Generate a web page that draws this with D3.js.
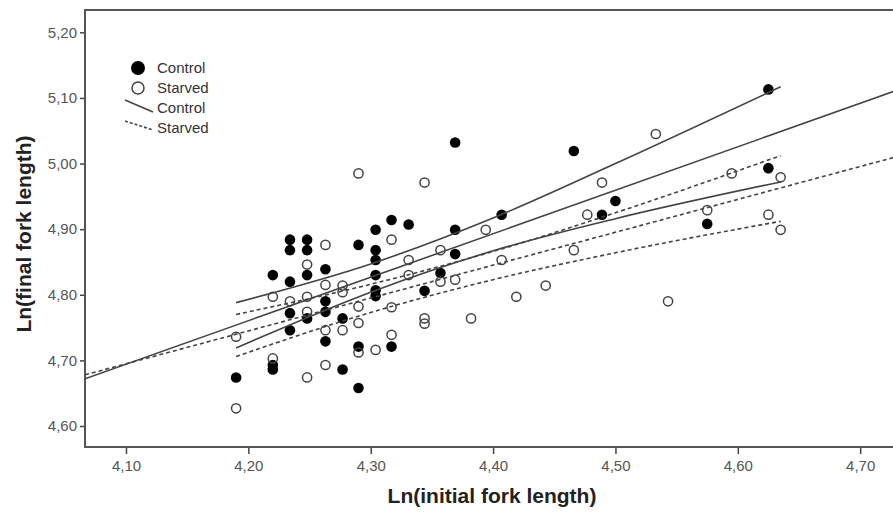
<!DOCTYPE html>
<html>
<head>
<meta charset="utf-8">
<title>Ln(final fork length) vs Ln(initial fork length)</title>
<style>
  html, body { margin:0; padding:0; background:#fff; }
  svg { display:block; }
  text { font-family: Arial, "Liberation Sans", sans-serif; }
</style>
<script src="https://d3js.org/d3.v7.min.js"></script>
</head>
<body>
<svg id="chart" width="893" height="515"></svg>
<script>
  // tick labels
  var xTicks = [4.10, 4.20, 4.30, 4.40, 4.50, 4.60, 4.70];
  var yTicks = [4.60, 4.70, 4.80, 4.90, 5.00, 5.10, 5.20];

  // [ln initial, ln final]
  var controlPoints = [
    [4.190, 4.674],
    [4.220, 4.830], [4.220, 4.693], [4.220, 4.686],
    [4.234, 4.884], [4.234, 4.868], [4.234, 4.820], [4.234, 4.772], [4.234, 4.746],
    [4.248, 4.884], [4.248, 4.868], [4.248, 4.830], [4.248, 4.764],
    [4.263, 4.839], [4.263, 4.790], [4.263, 4.774], [4.263, 4.729],
    [4.277, 4.764], [4.277, 4.686],
    [4.290, 4.876], [4.290, 4.721], [4.290, 4.658],
    [4.304, 4.899], [4.304, 4.868], [4.304, 4.853], [4.304, 4.830], [4.304, 4.807], [4.304, 4.798],
    [4.317, 4.914], [4.317, 4.721],
    [4.331, 4.907],
    [4.344, 4.806],
    [4.357, 4.833],
    [4.369, 5.032], [4.369, 4.899], [4.369, 4.862],
    [4.407, 4.922],
    [4.466, 5.019],
    [4.489, 4.922],
    [4.500, 4.943],
    [4.575, 4.908],
    [4.625, 5.113], [4.625, 4.993]
  ];
  var starvedPoints = [
    [4.190, 4.736], [4.190, 4.627],
    [4.220, 4.797], [4.220, 4.703],
    [4.234, 4.790],
    [4.248, 4.846], [4.248, 4.797], [4.248, 4.774], [4.248, 4.674],
    [4.263, 4.876], [4.263, 4.815], [4.263, 4.746], [4.263, 4.693],
    [4.277, 4.814], [4.277, 4.804], [4.277, 4.746],
    [4.290, 4.985], [4.290, 4.782], [4.290, 4.757], [4.290, 4.712],
    [4.304, 4.716],
    [4.317, 4.884], [4.317, 4.781], [4.317, 4.739],
    [4.331, 4.853], [4.331, 4.830],
    [4.344, 4.971], [4.344, 4.764], [4.344, 4.756],
    [4.357, 4.868], [4.357, 4.820],
    [4.369, 4.823],
    [4.382, 4.764],
    [4.394, 4.899],
    [4.407, 4.853],
    [4.419, 4.797],
    [4.443, 4.814],
    [4.466, 4.868],
    [4.477, 4.922],
    [4.489, 4.971],
    [4.533, 5.045],
    [4.543, 4.790],
    [4.575, 4.929],
    [4.595, 4.985],
    [4.625, 4.922],
    [4.635, 4.979], [4.635, 4.899]
  ];

  // fit lines, at the two ends of the x axis
  var fitX = [4.0665, 4.735];
  var controlFit = [4.672, 5.115];
  var starvedFit = [4.678, 5.013];

  // 95% CI curves over the data range
  var ciX = [4.190, 4.300, 4.400, 4.500, 4.635];
  var controlUpper = [4.788, 4.847, 4.917, 5.000, 5.117];
  var controlLower = [4.719, 4.804, 4.867, 4.916, 4.972];
  var starvedUpper = [4.770, 4.816, 4.866, 4.925, 5.012];
  var starvedLower = [4.706, 4.773, 4.823, 4.864, 4.912];

  var svg = d3.select("#chart");
  var plotL = 85, plotT = 10, plotB = 447, plotR = 903;

  var x = d3.scaleLinear().domain([4.0665, 4.735]).range([plotL, plotR]);
  var y = d3.scaleLinear().domain([4.568, 5.234]).range([plotB, plotT]);

  var fmt = d3.formatLocale({decimal: ",", thousands: ".", grouping: [3], currency: ["", ""]}).format(".2f");

  svg.append("rect").attr("width", 893).attr("height", 515).attr("fill", "white");

  svg.append("defs").append("clipPath").attr("id", "plot")
    .append("rect").attr("x", plotL).attr("y", plotT)
    .attr("width", plotR - plotL).attr("height", plotB - plotT);

  // axes
  var yAxis = svg.append("g")
    .attr("transform", "translate(" + plotL + ",0)")
    .call(d3.axisLeft(y).tickValues(yTicks).tickFormat(fmt).tickSize(5).tickPadding(3));
  var xAxis = svg.append("g")
    .attr("transform", "translate(0," + plotB + ")")
    .call(d3.axisBottom(x).tickValues(xTicks).tickFormat(fmt).tickSize(7).tickPadding(6));
  [xAxis, yAxis].forEach(function(a) {
    a.select(".domain").remove();
    a.selectAll(".tick line").attr("stroke", "#444").attr("stroke-width", 1.5);
    a.selectAll(".tick text").attr("fill", "#555").style("font-size", "15px")
      .style("font-family", "Arial, 'Liberation Sans', sans-serif");
  });

  // frame
  svg.append("rect")
    .attr("x", plotL).attr("y", plotT)
    .attr("width", plotR - plotL).attr("height", plotB - plotT)
    .attr("fill", "none").attr("stroke", "#555").attr("stroke-width", 2);

  var g = svg.append("g").attr("clip-path", "url(#plot)");

  // points
  g.selectAll(".ctl").data(controlPoints).enter().append("circle")
    .attr("class", "ctl")
    .attr("cx", function(d) { return x(d[0]); })
    .attr("cy", function(d) { return y(d[1]); })
    .attr("r", 5.3)
    .attr("fill", "#000");
  g.selectAll(".stv").data(starvedPoints).enter().append("circle")
    .attr("class", "stv")
    .attr("cx", function(d) { return x(d[0]); })
    .attr("cy", function(d) { return y(d[1]); })
    .attr("r", 4.6)
    .attr("fill", "none")
    .attr("stroke", "#444")
    .attr("stroke-width", 1.5);

  // lines
  var line = d3.line()
    .x(function(d) { return x(d[0]); })
    .y(function(d) { return y(d[1]); });
  var curve = d3.line()
    .x(function(d) { return x(d[0]); })
    .y(function(d) { return y(d[1]); })
    .curve(d3.curveMonotoneX);

  function zip(xs, ys) { return xs.map(function(v, i) { return [v, ys[i]]; }); }

  var lines = [
    {pts: zip(fitX, controlFit), dash: null, gen: line},
    {pts: zip(fitX, starvedFit), dash: "4,3", gen: line},
    {pts: zip(ciX, controlUpper), dash: null, gen: curve},
    {pts: zip(ciX, controlLower), dash: null, gen: curve},
    {pts: zip(ciX, starvedUpper), dash: "4,3", gen: curve},
    {pts: zip(ciX, starvedLower), dash: "4,3", gen: curve}
  ];
  lines.forEach(function(l) {
    g.append("path")
      .attr("d", l.gen(l.pts))
      .attr("fill", "none")
      .attr("stroke", "#444")
      .attr("stroke-width", 1.6)
      .attr("stroke-dasharray", l.dash);
  });

  // legend
  var leg = svg.append("g");
  leg.append("circle").attr("cx", 138).attr("cy", 68).attr("r", 7).attr("fill", "#000");
  leg.append("circle").attr("cx", 138).attr("cy", 88).attr("r", 6).attr("fill", "none")
    .attr("stroke", "#444").attr("stroke-width", 1.5);
  leg.append("line").attr("x1", 125).attr("y1", 100).attr("x2", 153).attr("y2", 112)
    .attr("stroke", "#444").attr("stroke-width", 1.6);
  leg.append("line").attr("x1", 125).attr("y1", 121).attr("x2", 153).attr("y2", 130)
    .attr("stroke", "#444").attr("stroke-width", 1.6).attr("stroke-dasharray", "3,2");
  var legText = ["Control", "Starved", "Control", "Starved"];
  var legY = [68, 88, 108, 128];
  legText.forEach(function(t, i) {
    leg.append("text").text(t)
      .attr("x", 157).attr("y", legY[i])
      .attr("dy", "0.35em")
      .attr("fill", "#333")
      .style("font-size", "15px");
  });

  // axis titles
  svg.append("text").text("Ln(initial fork length)")
    .attr("x", 492).attr("y", 503)
    .attr("text-anchor", "middle")
    .attr("fill", "#222")
    .style("font-size", "21px").style("font-weight", "bold");
  svg.append("text").text("Ln(final fork length)")
    .attr("transform", "translate(31,234) rotate(-90)")
    .attr("text-anchor", "middle")
    .attr("fill", "#222")
    .style("font-size", "21px").style("font-weight", "bold");
</script>
</body>
</html>
